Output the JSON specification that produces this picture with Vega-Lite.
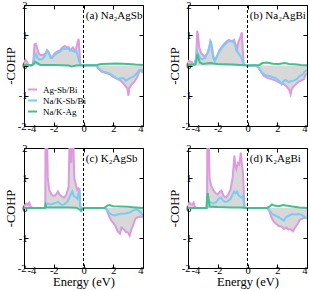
{
"$schema":"https://vega.github.io/schema/vega-lite/v6.json",
"padding":{"left":3,"top":-1,"right":2,"bottom":0},
"config":{"font":"Liberation Serif","view":{"stroke":"black","strokeWidth":1},
"axis":{"domain":false,"grid":false,"tickColor":"black","tickSize":-4,"labelFontSize":10.5,"labelColor":"black","labelPadding":1,"titleFontSize":12.5,"titleFontWeight":"normal","titleColor":"black","titlePadding":0},
"axisX":{"labelOffset":{"condition":{"test":"datum.value===-4","value":3},"value":0}},
"axisY":{"labelPadding":{"condition":{"test":"datum.value===-2","value":2},"value":1}}},
"datasets":{
"a":[
{"s":"Ag-Sb/Bi","e":-4,"v":0.1},{"s":"Ag-Sb/Bi","e":-3.9,"v":0.18},{"s":"Ag-Sb/Bi","e":-3.8,"v":0.12},{"s":"Ag-Sb/Bi","e":-3.7,"v":0.02},{"s":"Ag-Sb/Bi","e":-3.5,"v":0},{"s":"Ag-Sb/Bi","e":-3.4,"v":0.02},{"s":"Ag-Sb/Bi","e":-3.35,"v":0.3},{"s":"Ag-Sb/Bi","e":-3.3,"v":0.7},{"s":"Ag-Sb/Bi","e":-3.2,"v":0.72},{"s":"Ag-Sb/Bi","e":-3.1,"v":0.55},{"s":"Ag-Sb/Bi","e":-3.0,"v":0.4},{"s":"Ag-Sb/Bi","e":-2.9,"v":0.35},{"s":"Ag-Sb/Bi","e":-2.7,"v":0.35},{"s":"Ag-Sb/Bi","e":-2.55,"v":0.4},{"s":"Ag-Sb/Bi","e":-2.45,"v":0.5},{"s":"Ag-Sb/Bi","e":-2.35,"v":0.45},{"s":"Ag-Sb/Bi","e":-2.2,"v":0.3},{"s":"Ag-Sb/Bi","e":-2.1,"v":0.28},{"s":"Ag-Sb/Bi","e":-1.95,"v":0.4},{"s":"Ag-Sb/Bi","e":-1.8,"v":0.45},{"s":"Ag-Sb/Bi","e":-1.6,"v":0.5},{"s":"Ag-Sb/Bi","e":-1.4,"v":0.6},{"s":"Ag-Sb/Bi","e":-1.25,"v":0.65},{"s":"Ag-Sb/Bi","e":-1.1,"v":0.6},{"s":"Ag-Sb/Bi","e":-1.0,"v":0.6},{"s":"Ag-Sb/Bi","e":-0.9,"v":0.5},{"s":"Ag-Sb/Bi","e":-0.8,"v":0.55},{"s":"Ag-Sb/Bi","e":-0.7,"v":0.6},{"s":"Ag-Sb/Bi","e":-0.6,"v":0.5},{"s":"Ag-Sb/Bi","e":-0.5,"v":0.55},{"s":"Ag-Sb/Bi","e":-0.4,"v":0.75},{"s":"Ag-Sb/Bi","e":-0.33,"v":0.88},{"s":"Ag-Sb/Bi","e":-0.27,"v":0.5},{"s":"Ag-Sb/Bi","e":-0.22,"v":0.05},{"s":"Ag-Sb/Bi","e":-0.15,"v":0},{"s":"Ag-Sb/Bi","e":0,"v":0},{"s":"Ag-Sb/Bi","e":0.85,"v":0},{"s":"Ag-Sb/Bi","e":1.0,"v":-0.1},{"s":"Ag-Sb/Bi","e":1.2,"v":-0.2},{"s":"Ag-Sb/Bi","e":1.5,"v":-0.25},{"s":"Ag-Sb/Bi","e":1.8,"v":-0.3},{"s":"Ag-Sb/Bi","e":2.0,"v":-0.38},{"s":"Ag-Sb/Bi","e":2.3,"v":-0.45},{"s":"Ag-Sb/Bi","e":2.5,"v":-0.5},{"s":"Ag-Sb/Bi","e":2.7,"v":-0.6},{"s":"Ag-Sb/Bi","e":2.85,"v":-0.7},{"s":"Ag-Sb/Bi","e":2.95,"v":-0.75},{"s":"Ag-Sb/Bi","e":3.02,"v":-1.0},{"s":"Ag-Sb/Bi","e":3.08,"v":-0.75},{"s":"Ag-Sb/Bi","e":3.2,"v":-0.65},{"s":"Ag-Sb/Bi","e":3.4,"v":-0.55},{"s":"Ag-Sb/Bi","e":3.6,"v":-0.4},{"s":"Ag-Sb/Bi","e":3.75,"v":-0.2},{"s":"Ag-Sb/Bi","e":3.85,"v":-0.15},{"s":"Ag-Sb/Bi","e":4,"v":-0.25},
{"s":"Na/K-Sb/Bi","e":-4,"v":0.05},{"s":"Na/K-Sb/Bi","e":-3.8,"v":0.03},{"s":"Na/K-Sb/Bi","e":-3.5,"v":0},{"s":"Na/K-Sb/Bi","e":-3.4,"v":0.02},{"s":"Na/K-Sb/Bi","e":-3.3,"v":0.3},{"s":"Na/K-Sb/Bi","e":-3.2,"v":0.38},{"s":"Na/K-Sb/Bi","e":-3.1,"v":0.25},{"s":"Na/K-Sb/Bi","e":-3.0,"v":0.2},{"s":"Na/K-Sb/Bi","e":-2.8,"v":0.2},{"s":"Na/K-Sb/Bi","e":-2.6,"v":0.3},{"s":"Na/K-Sb/Bi","e":-2.45,"v":0.5},{"s":"Na/K-Sb/Bi","e":-2.35,"v":0.42},{"s":"Na/K-Sb/Bi","e":-2.2,"v":0.25},{"s":"Na/K-Sb/Bi","e":-2.1,"v":0.25},{"s":"Na/K-Sb/Bi","e":-1.95,"v":0.35},{"s":"Na/K-Sb/Bi","e":-1.8,"v":0.4},{"s":"Na/K-Sb/Bi","e":-1.6,"v":0.45},{"s":"Na/K-Sb/Bi","e":-1.4,"v":0.55},{"s":"Na/K-Sb/Bi","e":-1.2,"v":0.55},{"s":"Na/K-Sb/Bi","e":-1.0,"v":0.55},{"s":"Na/K-Sb/Bi","e":-0.85,"v":0.5},{"s":"Na/K-Sb/Bi","e":-0.7,"v":0.48},{"s":"Na/K-Sb/Bi","e":-0.6,"v":0.45},{"s":"Na/K-Sb/Bi","e":-0.5,"v":0.5},{"s":"Na/K-Sb/Bi","e":-0.4,"v":0.35},{"s":"Na/K-Sb/Bi","e":-0.3,"v":0.15},{"s":"Na/K-Sb/Bi","e":-0.2,"v":0.02},{"s":"Na/K-Sb/Bi","e":0,"v":0},{"s":"Na/K-Sb/Bi","e":0.85,"v":0},{"s":"Na/K-Sb/Bi","e":1.0,"v":-0.08},{"s":"Na/K-Sb/Bi","e":1.2,"v":-0.18},{"s":"Na/K-Sb/Bi","e":1.5,"v":-0.22},{"s":"Na/K-Sb/Bi","e":1.8,"v":-0.28},{"s":"Na/K-Sb/Bi","e":2.0,"v":-0.35},{"s":"Na/K-Sb/Bi","e":2.3,"v":-0.45},{"s":"Na/K-Sb/Bi","e":2.5,"v":-0.42},{"s":"Na/K-Sb/Bi","e":2.7,"v":-0.42},{"s":"Na/K-Sb/Bi","e":2.85,"v":-0.5},{"s":"Na/K-Sb/Bi","e":3.0,"v":-0.45},{"s":"Na/K-Sb/Bi","e":3.2,"v":-0.4},{"s":"Na/K-Sb/Bi","e":3.4,"v":-0.35},{"s":"Na/K-Sb/Bi","e":3.6,"v":-0.25},{"s":"Na/K-Sb/Bi","e":3.75,"v":-0.15},{"s":"Na/K-Sb/Bi","e":3.9,"v":-0.15},{"s":"Na/K-Sb/Bi","e":4,"v":-0.15},
{"s":"Na/K-Ag","e":-4,"v":0.02},{"s":"Na/K-Ag","e":-3.5,"v":0.01},{"s":"Na/K-Ag","e":-3.35,"v":0.05},{"s":"Na/K-Ag","e":-3.25,"v":0.12},{"s":"Na/K-Ag","e":-3.1,"v":0.08},{"s":"Na/K-Ag","e":-2.9,"v":0.02},{"s":"Na/K-Ag","e":-2.0,"v":0.02},{"s":"Na/K-Ag","e":-1.0,"v":0},{"s":"Na/K-Ag","e":-0.8,"v":-0.03},{"s":"Na/K-Ag","e":-0.5,"v":0},{"s":"Na/K-Ag","e":0,"v":0.01},{"s":"Na/K-Ag","e":0.9,"v":0.02},{"s":"Na/K-Ag","e":1.2,"v":0.05},{"s":"Na/K-Ag","e":1.8,"v":0.06},{"s":"Na/K-Ag","e":2.2,"v":0.07},{"s":"Na/K-Ag","e":2.6,"v":0.06},{"s":"Na/K-Ag","e":3.0,"v":0.05},{"s":"Na/K-Ag","e":3.5,"v":0.03},{"s":"Na/K-Ag","e":4,"v":0.02}],
"b":[
{"s":"Ag-Sb/Bi","e":-4,"v":0.15},{"s":"Ag-Sb/Bi","e":-3.75,"v":0.12},{"s":"Ag-Sb/Bi","e":-3.7,"v":0.05},{"s":"Ag-Sb/Bi","e":-3.55,"v":0.05},{"s":"Ag-Sb/Bi","e":-3.45,"v":0.3},{"s":"Ag-Sb/Bi","e":-3.38,"v":1.15},{"s":"Ag-Sb/Bi","e":-3.32,"v":1.0},{"s":"Ag-Sb/Bi","e":-3.25,"v":0.6},{"s":"Ag-Sb/Bi","e":-3.1,"v":0.4},{"s":"Ag-Sb/Bi","e":-2.9,"v":0.3},{"s":"Ag-Sb/Bi","e":-2.7,"v":0.4},{"s":"Ag-Sb/Bi","e":-2.6,"v":0.5},{"s":"Ag-Sb/Bi","e":-2.5,"v":0.8},{"s":"Ag-Sb/Bi","e":-2.42,"v":0.7},{"s":"Ag-Sb/Bi","e":-2.3,"v":0.3},{"s":"Ag-Sb/Bi","e":-2.2,"v":0.2},{"s":"Ag-Sb/Bi","e":-2.05,"v":0.3},{"s":"Ag-Sb/Bi","e":-1.9,"v":0.5},{"s":"Ag-Sb/Bi","e":-1.75,"v":0.6},{"s":"Ag-Sb/Bi","e":-1.6,"v":0.7},{"s":"Ag-Sb/Bi","e":-1.4,"v":0.8},{"s":"Ag-Sb/Bi","e":-1.25,"v":0.85},{"s":"Ag-Sb/Bi","e":-1.05,"v":0.8},{"s":"Ag-Sb/Bi","e":-0.9,"v":0.85},{"s":"Ag-Sb/Bi","e":-0.8,"v":0.7},{"s":"Ag-Sb/Bi","e":-0.7,"v":0.55},{"s":"Ag-Sb/Bi","e":-0.6,"v":0.8},{"s":"Ag-Sb/Bi","e":-0.5,"v":0.9},{"s":"Ag-Sb/Bi","e":-0.38,"v":1.1},{"s":"Ag-Sb/Bi","e":-0.3,"v":0.4},{"s":"Ag-Sb/Bi","e":-0.25,"v":0.02},{"s":"Ag-Sb/Bi","e":0,"v":0},{"s":"Ag-Sb/Bi","e":0.5,"v":0},{"s":"Ag-Sb/Bi","e":0.7,"v":-0.05},{"s":"Ag-Sb/Bi","e":0.9,"v":-0.2},{"s":"Ag-Sb/Bi","e":1.1,"v":-0.35},{"s":"Ag-Sb/Bi","e":1.3,"v":-0.4},{"s":"Ag-Sb/Bi","e":1.6,"v":-0.45},{"s":"Ag-Sb/Bi","e":1.9,"v":-0.5},{"s":"Ag-Sb/Bi","e":2.2,"v":-0.58},{"s":"Ag-Sb/Bi","e":2.4,"v":-0.6},{"s":"Ag-Sb/Bi","e":2.6,"v":-0.68},{"s":"Ag-Sb/Bi","e":2.8,"v":-0.8},{"s":"Ag-Sb/Bi","e":2.9,"v":-0.95},{"s":"Ag-Sb/Bi","e":3.0,"v":-0.75},{"s":"Ag-Sb/Bi","e":3.2,"v":-0.65},{"s":"Ag-Sb/Bi","e":3.4,"v":-0.55},{"s":"Ag-Sb/Bi","e":3.6,"v":-0.5},{"s":"Ag-Sb/Bi","e":3.8,"v":-0.45},{"s":"Ag-Sb/Bi","e":3.9,"v":-0.3},{"s":"Ag-Sb/Bi","e":4,"v":-0.3},
{"s":"Na/K-Sb/Bi","e":-4,"v":0.05},{"s":"Na/K-Sb/Bi","e":-3.6,"v":0.03},{"s":"Na/K-Sb/Bi","e":-3.45,"v":0.2},{"s":"Na/K-Sb/Bi","e":-3.38,"v":0.45},{"s":"Na/K-Sb/Bi","e":-3.3,"v":0.35},{"s":"Na/K-Sb/Bi","e":-3.2,"v":0.25},{"s":"Na/K-Sb/Bi","e":-3.05,"v":0.2},{"s":"Na/K-Sb/Bi","e":-2.85,"v":0.25},{"s":"Na/K-Sb/Bi","e":-2.7,"v":0.4},{"s":"Na/K-Sb/Bi","e":-2.55,"v":0.65},{"s":"Na/K-Sb/Bi","e":-2.48,"v":0.82},{"s":"Na/K-Sb/Bi","e":-2.4,"v":0.6},{"s":"Na/K-Sb/Bi","e":-2.3,"v":0.25},{"s":"Na/K-Sb/Bi","e":-2.2,"v":0.15},{"s":"Na/K-Sb/Bi","e":-2.05,"v":0.3},{"s":"Na/K-Sb/Bi","e":-1.9,"v":0.45},{"s":"Na/K-Sb/Bi","e":-1.7,"v":0.6},{"s":"Na/K-Sb/Bi","e":-1.5,"v":0.7},{"s":"Na/K-Sb/Bi","e":-1.3,"v":0.8},{"s":"Na/K-Sb/Bi","e":-1.1,"v":0.8},{"s":"Na/K-Sb/Bi","e":-0.95,"v":0.78},{"s":"Na/K-Sb/Bi","e":-0.85,"v":0.7},{"s":"Na/K-Sb/Bi","e":-0.75,"v":0.5},{"s":"Na/K-Sb/Bi","e":-0.6,"v":0.4},{"s":"Na/K-Sb/Bi","e":-0.45,"v":0.3},{"s":"Na/K-Sb/Bi","e":-0.3,"v":0.1},{"s":"Na/K-Sb/Bi","e":-0.25,"v":0.02},{"s":"Na/K-Sb/Bi","e":0,"v":0},{"s":"Na/K-Sb/Bi","e":0.6,"v":0},{"s":"Na/K-Sb/Bi","e":0.8,"v":-0.1},{"s":"Na/K-Sb/Bi","e":1.0,"v":-0.25},{"s":"Na/K-Sb/Bi","e":1.2,"v":-0.32},{"s":"Na/K-Sb/Bi","e":1.5,"v":-0.35},{"s":"Na/K-Sb/Bi","e":1.8,"v":-0.4},{"s":"Na/K-Sb/Bi","e":2.0,"v":-0.45},{"s":"Na/K-Sb/Bi","e":2.2,"v":-0.55},{"s":"Na/K-Sb/Bi","e":2.3,"v":-0.62},{"s":"Na/K-Sb/Bi","e":2.45,"v":-0.5},{"s":"Na/K-Sb/Bi","e":2.6,"v":-0.48},{"s":"Na/K-Sb/Bi","e":2.75,"v":-0.55},{"s":"Na/K-Sb/Bi","e":2.9,"v":-0.52},{"s":"Na/K-Sb/Bi","e":3.1,"v":-0.5},{"s":"Na/K-Sb/Bi","e":3.3,"v":-0.45},{"s":"Na/K-Sb/Bi","e":3.5,"v":-0.35},{"s":"Na/K-Sb/Bi","e":3.7,"v":-0.3},{"s":"Na/K-Sb/Bi","e":3.85,"v":-0.2},{"s":"Na/K-Sb/Bi","e":4,"v":-0.15},
{"s":"Na/K-Ag","e":-4,"v":0.02},{"s":"Na/K-Ag","e":-3.5,"v":0.03},{"s":"Na/K-Ag","e":-3.42,"v":0.2},{"s":"Na/K-Ag","e":-3.37,"v":0.38},{"s":"Na/K-Ag","e":-3.3,"v":0.25},{"s":"Na/K-Ag","e":-3.2,"v":0.1},{"s":"Na/K-Ag","e":-3.0,"v":0.05},{"s":"Na/K-Ag","e":-2.5,"v":0.08},{"s":"Na/K-Ag","e":-2.0,"v":0.05},{"s":"Na/K-Ag","e":-1.5,"v":0.04},{"s":"Na/K-Ag","e":-1.0,"v":0.03},{"s":"Na/K-Ag","e":-0.5,"v":0.02},{"s":"Na/K-Ag","e":0,"v":0},{"s":"Na/K-Ag","e":0.8,"v":0.02},{"s":"Na/K-Ag","e":1.0,"v":0.08},{"s":"Na/K-Ag","e":1.3,"v":0.1},{"s":"Na/K-Ag","e":1.7,"v":0.06},{"s":"Na/K-Ag","e":2.1,"v":0.05},{"s":"Na/K-Ag","e":2.5,"v":0.08},{"s":"Na/K-Ag","e":2.8,"v":0.05},{"s":"Na/K-Ag","e":3.2,"v":0.04},{"s":"Na/K-Ag","e":3.6,"v":0.02},{"s":"Na/K-Ag","e":4,"v":0.01}],
"c":[
{"s":"Ag-Sb/Bi","e":-4,"v":0.05},{"s":"Ag-Sb/Bi","e":-3.85,"v":0.15},{"s":"Ag-Sb/Bi","e":-3.75,"v":0.12},{"s":"Ag-Sb/Bi","e":-3.65,"v":0.18},{"s":"Ag-Sb/Bi","e":-3.55,"v":0.05},{"s":"Ag-Sb/Bi","e":-3.4,"v":0},{"s":"Ag-Sb/Bi","e":-2.6,"v":0},{"s":"Ag-Sb/Bi","e":-2.57,"v":0.2},{"s":"Ag-Sb/Bi","e":-2.55,"v":2.5},{"s":"Ag-Sb/Bi","e":-2.45,"v":2.5},{"s":"Ag-Sb/Bi","e":-2.4,"v":1.0},{"s":"Ag-Sb/Bi","e":-2.3,"v":0.6},{"s":"Ag-Sb/Bi","e":-2.15,"v":0.45},{"s":"Ag-Sb/Bi","e":-2.0,"v":0.4},{"s":"Ag-Sb/Bi","e":-1.85,"v":0.45},{"s":"Ag-Sb/Bi","e":-1.72,"v":0.55},{"s":"Ag-Sb/Bi","e":-1.6,"v":0.45},{"s":"Ag-Sb/Bi","e":-1.45,"v":0.38},{"s":"Ag-Sb/Bi","e":-1.3,"v":0.35},{"s":"Ag-Sb/Bi","e":-1.15,"v":0.45},{"s":"Ag-Sb/Bi","e":-1.0,"v":0.7},{"s":"Ag-Sb/Bi","e":-0.93,"v":2.5},{"s":"Ag-Sb/Bi","e":-0.88,"v":2.5},{"s":"Ag-Sb/Bi","e":-0.82,"v":1.5},{"s":"Ag-Sb/Bi","e":-0.77,"v":2.5},{"s":"Ag-Sb/Bi","e":-0.7,"v":2.5},{"s":"Ag-Sb/Bi","e":-0.62,"v":1.0},{"s":"Ag-Sb/Bi","e":-0.5,"v":0.75},{"s":"Ag-Sb/Bi","e":-0.42,"v":0.6},{"s":"Ag-Sb/Bi","e":-0.33,"v":0.65},{"s":"Ag-Sb/Bi","e":-0.27,"v":0.6},{"s":"Ag-Sb/Bi","e":-0.22,"v":0.1},{"s":"Ag-Sb/Bi","e":-0.15,"v":-0.05},{"s":"Ag-Sb/Bi","e":-0.1,"v":-0.02},{"s":"Ag-Sb/Bi","e":0,"v":0},{"s":"Ag-Sb/Bi","e":1.4,"v":0},{"s":"Ag-Sb/Bi","e":1.55,"v":-0.05},{"s":"Ag-Sb/Bi","e":1.7,"v":-0.25},{"s":"Ag-Sb/Bi","e":1.85,"v":-0.4},{"s":"Ag-Sb/Bi","e":2.0,"v":-0.5},{"s":"Ag-Sb/Bi","e":2.15,"v":-0.6},{"s":"Ag-Sb/Bi","e":2.3,"v":-0.78},{"s":"Ag-Sb/Bi","e":2.45,"v":-0.85},{"s":"Ag-Sb/Bi","e":2.55,"v":-0.65},{"s":"Ag-Sb/Bi","e":2.7,"v":-0.7},{"s":"Ag-Sb/Bi","e":2.85,"v":-0.8},{"s":"Ag-Sb/Bi","e":3.0,"v":-0.82},{"s":"Ag-Sb/Bi","e":3.1,"v":-0.92},{"s":"Ag-Sb/Bi","e":3.2,"v":-0.75},{"s":"Ag-Sb/Bi","e":3.35,"v":-0.55},{"s":"Ag-Sb/Bi","e":3.5,"v":-0.35},{"s":"Ag-Sb/Bi","e":3.7,"v":-0.3},{"s":"Ag-Sb/Bi","e":3.85,"v":-0.28},{"s":"Ag-Sb/Bi","e":4,"v":-0.32},
{"s":"Na/K-Sb/Bi","e":-4,"v":0},{"s":"Na/K-Sb/Bi","e":-2.6,"v":0},{"s":"Na/K-Sb/Bi","e":-2.55,"v":0.1},{"s":"Na/K-Sb/Bi","e":-2.4,"v":0.15},{"s":"Na/K-Sb/Bi","e":-2.2,"v":0.12},{"s":"Na/K-Sb/Bi","e":-2.0,"v":0.15},{"s":"Na/K-Sb/Bi","e":-1.85,"v":0.18},{"s":"Na/K-Sb/Bi","e":-1.72,"v":0.2},{"s":"Na/K-Sb/Bi","e":-1.6,"v":0.15},{"s":"Na/K-Sb/Bi","e":-1.45,"v":0.1},{"s":"Na/K-Sb/Bi","e":-1.3,"v":0.12},{"s":"Na/K-Sb/Bi","e":-1.1,"v":0.2},{"s":"Na/K-Sb/Bi","e":-0.95,"v":0.35},{"s":"Na/K-Sb/Bi","e":-0.85,"v":0.45},{"s":"Na/K-Sb/Bi","e":-0.75,"v":0.55},{"s":"Na/K-Sb/Bi","e":-0.65,"v":0.4},{"s":"Na/K-Sb/Bi","e":-0.5,"v":0.35},{"s":"Na/K-Sb/Bi","e":-0.4,"v":0.3},{"s":"Na/K-Sb/Bi","e":-0.33,"v":0.5},{"s":"Na/K-Sb/Bi","e":-0.27,"v":0.55},{"s":"Na/K-Sb/Bi","e":-0.23,"v":0.1},{"s":"Na/K-Sb/Bi","e":-0.15,"v":-0.05},{"s":"Na/K-Sb/Bi","e":0,"v":0},{"s":"Na/K-Sb/Bi","e":1.45,"v":0},{"s":"Na/K-Sb/Bi","e":1.6,"v":-0.08},{"s":"Na/K-Sb/Bi","e":1.75,"v":-0.18},{"s":"Na/K-Sb/Bi","e":1.9,"v":-0.22},{"s":"Na/K-Sb/Bi","e":2.1,"v":-0.25},{"s":"Na/K-Sb/Bi","e":2.4,"v":-0.2},{"s":"Na/K-Sb/Bi","e":2.8,"v":-0.18},{"s":"Na/K-Sb/Bi","e":3.1,"v":-0.15},{"s":"Na/K-Sb/Bi","e":3.35,"v":-0.08},{"s":"Na/K-Sb/Bi","e":3.5,"v":-0.05},{"s":"Na/K-Sb/Bi","e":3.7,"v":-0.08},{"s":"Na/K-Sb/Bi","e":3.85,"v":-0.15},{"s":"Na/K-Sb/Bi","e":4,"v":-0.25},
{"s":"Na/K-Ag","e":-4,"v":0},{"s":"Na/K-Ag","e":-2.6,"v":0},{"s":"Na/K-Ag","e":-2.55,"v":0.1},{"s":"Na/K-Ag","e":-2.5,"v":0.02},{"s":"Na/K-Ag","e":-1.0,"v":0.02},{"s":"Na/K-Ag","e":-0.5,"v":0.01},{"s":"Na/K-Ag","e":-0.25,"v":-0.05},{"s":"Na/K-Ag","e":-0.15,"v":-0.1},{"s":"Na/K-Ag","e":-0.1,"v":-0.03},{"s":"Na/K-Ag","e":0,"v":0},{"s":"Na/K-Ag","e":1.4,"v":0},{"s":"Na/K-Ag","e":1.6,"v":0.08},{"s":"Na/K-Ag","e":1.75,"v":0.1},{"s":"Na/K-Ag","e":2.0,"v":0.06},{"s":"Na/K-Ag","e":2.5,"v":0.05},{"s":"Na/K-Ag","e":3.0,"v":0.04},{"s":"Na/K-Ag","e":3.5,"v":0.02},{"s":"Na/K-Ag","e":4,"v":0}],
"d":[
{"s":"Ag-Sb/Bi","e":-4,"v":0.1},{"s":"Ag-Sb/Bi","e":-3.9,"v":0.18},{"s":"Ag-Sb/Bi","e":-3.8,"v":0.12},{"s":"Ag-Sb/Bi","e":-3.7,"v":0.12},{"s":"Ag-Sb/Bi","e":-3.62,"v":0.18},{"s":"Ag-Sb/Bi","e":-3.55,"v":0.05},{"s":"Ag-Sb/Bi","e":-3.45,"v":0},{"s":"Ag-Sb/Bi","e":-2.75,"v":0},{"s":"Ag-Sb/Bi","e":-2.72,"v":0.3},{"s":"Ag-Sb/Bi","e":-2.7,"v":2.5},{"s":"Ag-Sb/Bi","e":-2.62,"v":2.5},{"s":"Ag-Sb/Bi","e":-2.55,"v":1.0},{"s":"Ag-Sb/Bi","e":-2.45,"v":0.75},{"s":"Ag-Sb/Bi","e":-2.3,"v":0.6},{"s":"Ag-Sb/Bi","e":-2.15,"v":0.5},{"s":"Ag-Sb/Bi","e":-2.0,"v":0.45},{"s":"Ag-Sb/Bi","e":-1.85,"v":0.55},{"s":"Ag-Sb/Bi","e":-1.75,"v":0.58},{"s":"Ag-Sb/Bi","e":-1.6,"v":0.4},{"s":"Ag-Sb/Bi","e":-1.45,"v":0.35},{"s":"Ag-Sb/Bi","e":-1.3,"v":0.45},{"s":"Ag-Sb/Bi","e":-1.15,"v":0.6},{"s":"Ag-Sb/Bi","e":-1.0,"v":1.0},{"s":"Ag-Sb/Bi","e":-0.92,"v":1.5},{"s":"Ag-Sb/Bi","e":-0.88,"v":1.75},{"s":"Ag-Sb/Bi","e":-0.82,"v":1.4},{"s":"Ag-Sb/Bi","e":-0.75,"v":1.3},{"s":"Ag-Sb/Bi","e":-0.65,"v":1.5},{"s":"Ag-Sb/Bi","e":-0.55,"v":1.45},{"s":"Ag-Sb/Bi","e":-0.45,"v":1.85},{"s":"Ag-Sb/Bi","e":-0.38,"v":1.5},{"s":"Ag-Sb/Bi","e":-0.3,"v":1.15},{"s":"Ag-Sb/Bi","e":-0.22,"v":0.2},{"s":"Ag-Sb/Bi","e":-0.18,"v":0},{"s":"Ag-Sb/Bi","e":0,"v":0},{"s":"Ag-Sb/Bi","e":1.3,"v":0},{"s":"Ag-Sb/Bi","e":1.45,"v":-0.08},{"s":"Ag-Sb/Bi","e":1.6,"v":-0.3},{"s":"Ag-Sb/Bi","e":1.75,"v":-0.45},{"s":"Ag-Sb/Bi","e":1.9,"v":-0.52},{"s":"Ag-Sb/Bi","e":2.1,"v":-0.6},{"s":"Ag-Sb/Bi","e":2.3,"v":-0.62},{"s":"Ag-Sb/Bi","e":2.45,"v":-0.7},{"s":"Ag-Sb/Bi","e":2.6,"v":-0.65},{"s":"Ag-Sb/Bi","e":2.75,"v":-0.72},{"s":"Ag-Sb/Bi","e":2.9,"v":-0.7},{"s":"Ag-Sb/Bi","e":3.05,"v":-0.78},{"s":"Ag-Sb/Bi","e":3.2,"v":-0.65},{"s":"Ag-Sb/Bi","e":3.35,"v":-0.55},{"s":"Ag-Sb/Bi","e":3.5,"v":-0.4},{"s":"Ag-Sb/Bi","e":3.7,"v":-0.35},{"s":"Ag-Sb/Bi","e":3.85,"v":-0.33},{"s":"Ag-Sb/Bi","e":4,"v":-0.35},
{"s":"Na/K-Sb/Bi","e":-4,"v":0},{"s":"Na/K-Sb/Bi","e":-2.75,"v":0},{"s":"Na/K-Sb/Bi","e":-2.7,"v":0.2},{"s":"Na/K-Sb/Bi","e":-2.6,"v":0.22},{"s":"Na/K-Sb/Bi","e":-2.45,"v":0.18},{"s":"Na/K-Sb/Bi","e":-2.3,"v":0.15},{"s":"Na/K-Sb/Bi","e":-2.1,"v":0.2},{"s":"Na/K-Sb/Bi","e":-1.95,"v":0.3},{"s":"Na/K-Sb/Bi","e":-1.8,"v":0.35},{"s":"Na/K-Sb/Bi","e":-1.65,"v":0.25},{"s":"Na/K-Sb/Bi","e":-1.5,"v":0.2},{"s":"Na/K-Sb/Bi","e":-1.35,"v":0.22},{"s":"Na/K-Sb/Bi","e":-1.15,"v":0.3},{"s":"Na/K-Sb/Bi","e":-1.0,"v":0.45},{"s":"Na/K-Sb/Bi","e":-0.9,"v":0.55},{"s":"Na/K-Sb/Bi","e":-0.8,"v":0.5},{"s":"Na/K-Sb/Bi","e":-0.7,"v":0.55},{"s":"Na/K-Sb/Bi","e":-0.6,"v":0.42},{"s":"Na/K-Sb/Bi","e":-0.5,"v":0.38},{"s":"Na/K-Sb/Bi","e":-0.4,"v":0.35},{"s":"Na/K-Sb/Bi","e":-0.3,"v":0.4},{"s":"Na/K-Sb/Bi","e":-0.22,"v":0.05},{"s":"Na/K-Sb/Bi","e":-0.18,"v":0},{"s":"Na/K-Sb/Bi","e":0,"v":0},{"s":"Na/K-Sb/Bi","e":1.35,"v":0},{"s":"Na/K-Sb/Bi","e":1.5,"v":-0.1},{"s":"Na/K-Sb/Bi","e":1.65,"v":-0.2},{"s":"Na/K-Sb/Bi","e":1.85,"v":-0.25},{"s":"Na/K-Sb/Bi","e":2.1,"v":-0.3},{"s":"Na/K-Sb/Bi","e":2.3,"v":-0.38},{"s":"Na/K-Sb/Bi","e":2.45,"v":-0.42},{"s":"Na/K-Sb/Bi","e":2.6,"v":-0.3},{"s":"Na/K-Sb/Bi","e":2.8,"v":-0.25},{"s":"Na/K-Sb/Bi","e":3.0,"v":-0.2},{"s":"Na/K-Sb/Bi","e":3.2,"v":-0.22},{"s":"Na/K-Sb/Bi","e":3.4,"v":-0.2},{"s":"Na/K-Sb/Bi","e":3.6,"v":-0.22},{"s":"Na/K-Sb/Bi","e":3.8,"v":-0.28},{"s":"Na/K-Sb/Bi","e":4,"v":-0.35},
{"s":"Na/K-Ag","e":-4,"v":0},{"s":"Na/K-Ag","e":-2.75,"v":0},{"s":"Na/K-Ag","e":-2.72,"v":0.3},{"s":"Na/K-Ag","e":-2.68,"v":0.5},{"s":"Na/K-Ag","e":-2.62,"v":0.3},{"s":"Na/K-Ag","e":-2.55,"v":0.05},{"s":"Na/K-Ag","e":-2.0,"v":0.03},{"s":"Na/K-Ag","e":-1.0,"v":0.02},{"s":"Na/K-Ag","e":-0.5,"v":0.02},{"s":"Na/K-Ag","e":0,"v":0},{"s":"Na/K-Ag","e":1.3,"v":0},{"s":"Na/K-Ag","e":1.5,"v":0.05},{"s":"Na/K-Ag","e":1.65,"v":0.12},{"s":"Na/K-Ag","e":1.8,"v":0.08},{"s":"Na/K-Ag","e":2.1,"v":0.06},{"s":"Na/K-Ag","e":2.4,"v":0.1},{"s":"Na/K-Ag","e":2.6,"v":0.08},{"s":"Na/K-Ag","e":3.0,"v":0.05},{"s":"Na/K-Ag","e":3.5,"v":0.02},{"s":"Na/K-Ag","e":4,"v":0}]
},
"columns":2,
"bounds":"flush",
"spacing":{"column":45,"row":22},
"concat":[
{"width":119,"height":121,"data":{"name":"a"},"resolve":{"axis":{"x":"independent","y":"independent"}},"layer":[
{"transform":[{"filter":"datum.s==='Ag-Sb/Bi'"}],"mark":{"type":"area","color":"#D8D8D8","clip":true},"encoding":{"x":{"field":"e","type":"quantitative","scale":{"domain":[-4,4]},"axis":{"values":[-4,-2,0,2,4],"title":null,"labelExpr":"datum.value<0?'-'+abs(datum.value):''+datum.value"}},"y":{"field":"v","type":"quantitative","scale":{"domain":[-2,2]},"axis":{"values":[-2,-1,0,1,2],"title":"-COHP","labelExpr":"datum.value<0?'-'+abs(datum.value):''+datum.value"}},"y2":{"datum":0}}},
{"mark":{"type":"line","strokeWidth":2,"clip":true},"encoding":{"x":{"field":"e","type":"quantitative","axis":null},"y":{"field":"v","type":"quantitative","axis":null},"color":{"field":"s","type":"nominal","sort":null,"scale":{"domain":["Ag-Sb/Bi","Na/K-Sb/Bi","Na/K-Ag"],"range":["#DE9ADE","#7BCBF3","#47BE8F"]},"legend":{"orient":"none","legendX":3,"legendY":79,"title":null,"symbolType":"stroke","symbolStrokeWidth":2,"symbolSize":81,"labelFontSize":9,"rowPadding":-1.5,"labelOffset":5,"labelColor":"black","padding":0}}}},
{"data":{"values":[{}]},"mark":{"type":"rule","strokeDash":[3,2],"color":"black","strokeWidth":1},"encoding":{"x":{"datum":0,"type":"quantitative","axis":{"orient":"top","labels":false,"title":null,"values":[-4,-2,0,2,4]}}}},
{"data":{"values":[{}]},"mark":{"type":"text","align":"left","baseline":"middle","fontSize":11},"encoding":{"x":{"datum":0.15,"type":"quantitative","axis":null},"y":{"datum":1.63,"type":"quantitative","axis":{"orient":"right","labels":false,"title":null,"values":[-2,-1,0,1,2]}},"text":{"value":"(a) Na₂AgSb"}}}
]},
{"width":119,"height":121,"data":{"name":"b"},"resolve":{"axis":{"x":"independent","y":"independent"}},"layer":[
{"transform":[{"filter":"datum.s==='Ag-Sb/Bi'"}],"mark":{"type":"area","color":"#D8D8D8","clip":true},"encoding":{"x":{"field":"e","type":"quantitative","scale":{"domain":[-4,4]},"axis":{"values":[-4,-2,0,2,4],"title":null,"labelExpr":"datum.value<0?'-'+abs(datum.value):''+datum.value"}},"y":{"field":"v","type":"quantitative","scale":{"domain":[-2,2]},"axis":{"values":[-2,-1,0,1,2],"title":"-COHP","labelExpr":"datum.value<0?'-'+abs(datum.value):''+datum.value"}},"y2":{"datum":0}}},
{"mark":{"type":"line","strokeWidth":2,"clip":true},"encoding":{"x":{"field":"e","type":"quantitative","axis":null},"y":{"field":"v","type":"quantitative","axis":null},"color":{"field":"s","type":"nominal","sort":null,"scale":{"domain":["Ag-Sb/Bi","Na/K-Sb/Bi","Na/K-Ag"],"range":["#DE9ADE","#7BCBF3","#47BE8F"]},"legend":{"orient":"none","legendX":3,"legendY":79,"title":null,"symbolType":"stroke","symbolStrokeWidth":2,"symbolSize":81,"labelFontSize":9,"rowPadding":-1.5,"labelOffset":5,"labelColor":"black","padding":0}}}},
{"data":{"values":[{}]},"mark":{"type":"rule","strokeDash":[3,2],"color":"black","strokeWidth":1},"encoding":{"x":{"datum":0,"type":"quantitative","axis":{"orient":"top","labels":false,"title":null,"values":[-4,-2,0,2,4]}}}},
{"data":{"values":[{}]},"mark":{"type":"text","align":"left","baseline":"middle","fontSize":11},"encoding":{"x":{"datum":0.15,"type":"quantitative","axis":null},"y":{"datum":1.63,"type":"quantitative","axis":{"orient":"right","labels":false,"title":null,"values":[-2,-1,0,1,2]}},"text":{"value":"(b) Na₂AgBi"}}}
]},
{"width":119,"height":120,"data":{"name":"c"},"resolve":{"axis":{"x":"independent","y":"independent"}},"layer":[
{"transform":[{"filter":"datum.s==='Ag-Sb/Bi'"}],"mark":{"type":"area","color":"#D8D8D8","clip":true},"encoding":{"x":{"field":"e","type":"quantitative","scale":{"domain":[-4,4]},"axis":{"values":[-4,-2,0,2,4],"title":"Energy (eV)","labelExpr":"datum.value<0?'-'+abs(datum.value):''+datum.value"}},"y":{"field":"v","type":"quantitative","scale":{"domain":[-2,2]},"axis":{"values":[-2,-1,0,1,2],"title":"-COHP","labelExpr":"datum.value<0?'-'+abs(datum.value):''+datum.value"}},"y2":{"datum":0}}},
{"mark":{"type":"line","strokeWidth":2,"clip":true},"encoding":{"x":{"field":"e","type":"quantitative","axis":null},"y":{"field":"v","type":"quantitative","axis":null},"color":{"field":"s","type":"nominal","sort":null,"scale":{"domain":["Ag-Sb/Bi","Na/K-Sb/Bi","Na/K-Ag"],"range":["#DE9ADE","#7BCBF3","#47BE8F"]},"legend":{"orient":"none","legendX":3,"legendY":79,"title":null,"symbolType":"stroke","symbolStrokeWidth":2,"symbolSize":81,"labelFontSize":9,"rowPadding":-1.5,"labelOffset":5,"labelColor":"black","padding":0}}}},
{"data":{"values":[{}]},"mark":{"type":"rule","strokeDash":[3,2],"color":"black","strokeWidth":1},"encoding":{"x":{"datum":0,"type":"quantitative","axis":{"orient":"top","labels":false,"title":null,"values":[-4,-2,0,2,4]}}}},
{"data":{"values":[{}]},"mark":{"type":"text","align":"left","baseline":"middle","fontSize":11},"encoding":{"x":{"datum":0.15,"type":"quantitative","axis":null},"y":{"datum":1.63,"type":"quantitative","axis":{"orient":"right","labels":false,"title":null,"values":[-2,-1,0,1,2]}},"text":{"value":"(c) K₂AgSb"}}}
]},
{"width":119,"height":120,"data":{"name":"d"},"resolve":{"axis":{"x":"independent","y":"independent"}},"layer":[
{"transform":[{"filter":"datum.s==='Ag-Sb/Bi'"}],"mark":{"type":"area","color":"#D8D8D8","clip":true},"encoding":{"x":{"field":"e","type":"quantitative","scale":{"domain":[-4,4]},"axis":{"values":[-4,-2,0,2,4],"title":"Energy (eV)","labelExpr":"datum.value<0?'-'+abs(datum.value):''+datum.value"}},"y":{"field":"v","type":"quantitative","scale":{"domain":[-2,2]},"axis":{"values":[-2,-1,0,1,2],"title":"-COHP","labelExpr":"datum.value<0?'-'+abs(datum.value):''+datum.value"}},"y2":{"datum":0}}},
{"mark":{"type":"line","strokeWidth":2,"clip":true},"encoding":{"x":{"field":"e","type":"quantitative","axis":null},"y":{"field":"v","type":"quantitative","axis":null},"color":{"field":"s","type":"nominal","sort":null,"scale":{"domain":["Ag-Sb/Bi","Na/K-Sb/Bi","Na/K-Ag"],"range":["#DE9ADE","#7BCBF3","#47BE8F"]},"legend":{"orient":"none","legendX":3,"legendY":79,"title":null,"symbolType":"stroke","symbolStrokeWidth":2,"symbolSize":81,"labelFontSize":9,"rowPadding":-1.5,"labelOffset":5,"labelColor":"black","padding":0}}}},
{"data":{"values":[{}]},"mark":{"type":"rule","strokeDash":[3,2],"color":"black","strokeWidth":1},"encoding":{"x":{"datum":0,"type":"quantitative","axis":{"orient":"top","labels":false,"title":null,"values":[-4,-2,0,2,4]}}}},
{"data":{"values":[{}]},"mark":{"type":"text","align":"left","baseline":"middle","fontSize":11},"encoding":{"x":{"datum":0.15,"type":"quantitative","axis":null},"y":{"datum":1.63,"type":"quantitative","axis":{"orient":"right","labels":false,"title":null,"values":[-2,-1,0,1,2]}},"text":{"value":"(d) K₂AgBi"}}}
]}
]
}
